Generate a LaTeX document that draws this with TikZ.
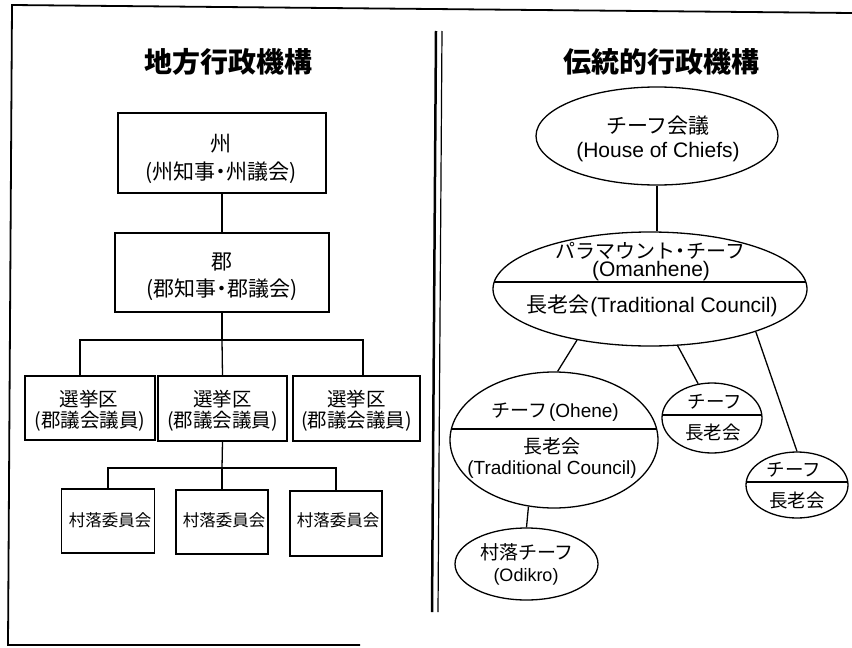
\documentclass[tikz,border=0pt]{standalone}
\usepackage{fontspec}
\setmainfont{Liberation Sans}
\newfontfamily\jp{Noto Sans CJK JP}
\usetikzlibrary{shapes.geometric,calc}
\newcommand\J[1]{{\jp #1}}
\newcommand\ndot{\kern-0.22em・\kern-0.22em}
\begin{document}
\begin{tikzpicture}[x=1pt,y=-1pt,
  tbox/.style={draw,line width=1.3pt,inner sep=0pt,rectangle},
  oval/.style={draw,line width=1.3pt,inner sep=0pt,ellipse},
  conn/.style={line width=1.3pt},
  ttl/.style={inner sep=0pt,font=\jp\bfseries\fontsize{28}{30}\selectfont},
  fA/.style={inner sep=0pt,font=\jp\fontsize{21}{24}\selectfont},
  fB/.style={inner sep=0pt,font=\jp\fontsize{19.5}{22}\selectfont},
  fC/.style={inner sep=0pt,font=\jp\fontsize{16.5}{19}\selectfont},
  fD/.style={inner sep=0pt,font=\fontsize{21}{24}\selectfont},
  fE/.style={inner sep=0pt,font=\fontsize{19}{22}\selectfont},
  fF/.style={inner sep=0pt,font=\fontsize{18.5}{21}\selectfont},
  fG/.style={inner sep=0pt,font=\fontsize{18}{21}\selectfont}]
\fill[white] (0,0) rectangle (852,648);
\useasboundingbox (0,0) rectangle (852,648);
% frame
\coordinate (tl) at (12,5);
\coordinate (tr) at (852,13);
\coordinate (bl) at (8,645);
\coordinate (br) at (360,645);
\draw[line width=1.8pt] (tr) -- (tl) -- (bl) -- (br);
% double divider
\coordinate (d1t) at (436,31); \coordinate (d1b) at (432,612);
\coordinate (d2t) at (442,31); \coordinate (d2b) at (438,612);
\draw[line width=2.5pt] (d1t) -- (d1b);
\draw[line width=1.2pt] (d2t) -- (d2b);
% titles
\node[ttl] (t1) at (228,62) {地方行政機構};
\node[ttl] (t2) at (661,62) {伝統的行政機構};
% left boxes
\node[tbox,minimum width=208pt,minimum height=80pt] (shu) at (222,153) {};
\node[fA] (shu1) at (221,144) {州};
\node[fA] (shu2) at (221,173) {(州知事\ndot 州議会)};
\node[tbox,minimum width=214pt,minimum height=79pt] (gun) at (222,272.5) {};
\node[fA] (gun1) at (222,262) {郡};
\node[fA] (gun2) at (222,290) {(郡知事\ndot 郡議会)};
\node[tbox,minimum width=130pt,minimum height=64pt] (sen1) at (90,408) {};
\node[tbox,minimum width=129pt,minimum height=65pt] (sen2) at (222.5,408.5) {};
\node[tbox,minimum width=127pt,minimum height=65pt] (sen3) at (356.5,408.5) {};
\node[fB] (s1a) at (89,399) {選挙区};
\node[fB] (s1b) at (90,421) {(郡議会議員)};
\node[fB] (s2a) at (222.5,399) {選挙区};
\node[fB] (s2b) at (222.5,421) {(郡議会議員)};
\node[fB] (s3a) at (356.5,399) {選挙区};
\node[fB] (s3b) at (356.5,421) {(郡議会議員)};
\node[tbox,minimum width=93pt,minimum height=64pt] (son1) at (108,521) {};
\node[tbox,minimum width=92pt,minimum height=64pt] (son2) at (222,522) {};
\node[tbox,minimum width=92pt,minimum height=65pt] (son3) at (336,523.5) {};
\node[fC] (v1) at (110,520) {村落委員会};
\node[fC] (v2) at (224,520) {村落委員会};
\node[fC] (v3) at (338,520) {村落委員会};
% left connectors
\draw[conn] (shu.south) -- (gun.north);
\coordinate (jA) at (222,340);
\draw[conn] (gun.south) -- (jA);
\draw[conn] ([xshift=-10pt]sen1.north) |- (jA) -| ([xshift=6.5pt]sen3.north);
\draw[conn] (jA) -- (sen2.north);
\coordinate (jB) at (222,468);
\draw[conn] (sen2.south) -- (jB);
\draw[conn] (son1.north) |- (jB) -| (son3.north);
\draw[conn] (jB) -- (son2.north);
% right ellipses
\node[oval,minimum width=242pt,minimum height=98pt] (hoc) at (657,136) {};
\node[fD] (h1) at (658,126) {\J{チーフ会議}};
\node[fD] (h2) at (658,152) {(House of Chiefs)};
\node[oval,minimum width=314pt,minimum height=114pt] (para) at (650,289) {};
\node[fD,font=\fontsize{20}{22}\selectfont] (p1) at (650,251) {\J{パラマウント\ndot チーフ}};
\node[fD] (p2) at (651,271) {(Omanhene)};
\node[fD] (p3) at (652,306) {\J{長老会}\kern1pt(Traditional Council)};
\draw[conn] ($(para.center)+(-155.8,-7)$) -- ($(para.center)+(155.8,-7)$);
\node[oval,minimum width=208pt,minimum height=136pt] (ohene) at (554,440) {};
\node[fE] (o1) at (555,412) {\J{チーフ}\kern2pt(Ohene)};
\node[fE] (o2) at (552,446) {\J{長老会}};
\node[fE] (o3) at (552,470) {(Traditional Council)};
\draw[conn] ($(ohene.center)+(-102.6,-11)$) -- ($(ohene.center)+(102.6,-11)$);
\node[oval,minimum width=100pt,minimum height=70pt] (sm1) at (712,418) {};
\node[fF] (m1a) at (715,402) {\J{チーフ}};
\node[fF] (m1b) at (713,432) {\J{長老会}};
\draw[conn] ($(sm1.center)+(-49.8,-3)$) -- ($(sm1.center)+(49.8,-3)$);
\node[oval,minimum width=102pt,minimum height=66pt] (sm2) at (797,485) {};
\node[fF] (m2a) at (794,470) {\J{チーフ}};
\node[fF] (m2b) at (797,500) {\J{長老会}};
\draw[conn] ($(sm2.center)+(-50.8,-3)$) -- ($(sm2.center)+(50.8,-3)$);
\node[oval,minimum width=143pt,minimum height=72pt] (odi) at (526.5,564) {};
\node[fE] (q1) at (527,552) {\J{村落チーフ}};
\node[fG] (q2) at (526,577) {(Odikro)};
% right connectors
\draw[conn] (hoc.south) -- (hoc.south |- para.north);
\draw[conn] (para.215.8) -- (ohene.87);
\draw[conn] (para.296.6) -- (sm1.112);
\draw[conn] (para.338.2) -- (sm2.north);
\draw[conn] (ohene.249) -- (odi.north);
\end{tikzpicture}
\end{document}
